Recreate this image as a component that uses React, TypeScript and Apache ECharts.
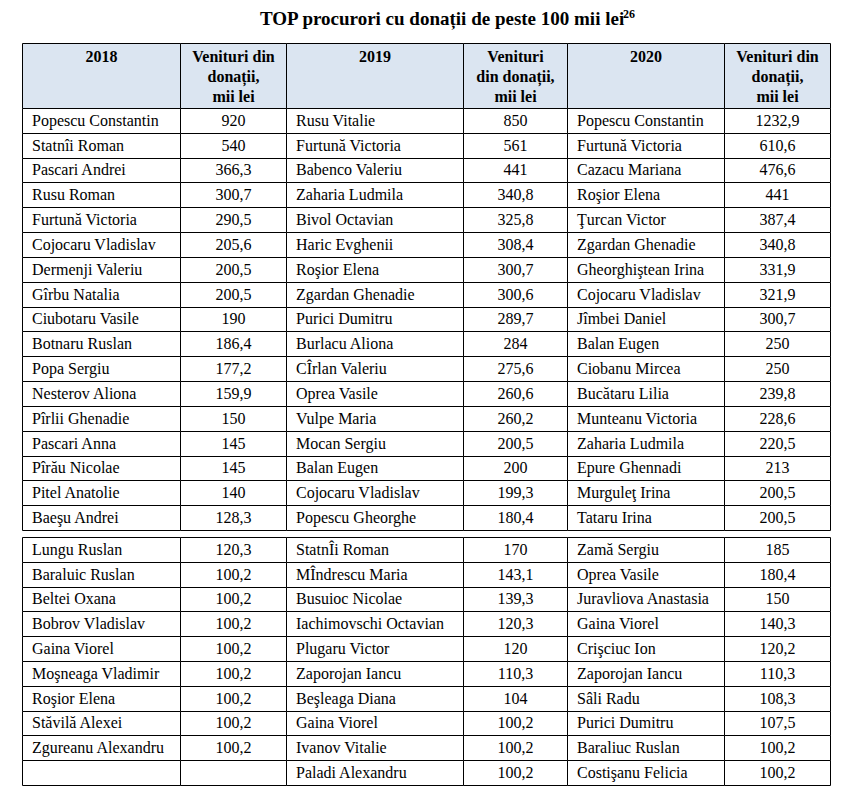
import React, { useEffect, useRef } from "react";
import * as echarts from "echarts";

// ---------- data ----------
const titleText = "TOP procurori cu donații de peste 100 mii lei";
const titleNote = "26";
const yearHeaders = ["2018", "2019", "2020"];
const valueHeaders = [
  "Venituri din\ndonații,\nmii lei",
  "Venituri\ndin donații,\nmii lei",
  "Venituri din\ndonații,\nmii lei",
];

const names2018 = [
  "Popescu Constantin", "Statnîi Roman", "Pascari Andrei", "Rusu Roman", "Furtună Victoria",
  "Cojocaru Vladislav", "Dermenji Valeriu", "Gîrbu Natalia", "Ciubotaru Vasile", "Botnaru Ruslan",
  "Popa Sergiu", "Nesterov Aliona", "Pîrlii Ghenadie", "Pascari Anna", "Pîrău Nicolae",
  "Pitel Anatolie", "Baeşu Andrei",
  "Lungu Ruslan", "Baraluic Ruslan", "Beltei Oxana", "Bobrov Vladislav", "Gaina Viorel",
  "Moşneaga Vladimir", "Roşior Elena", "Stăvilă Alexei", "Zgureanu Alexandru", "",
];
const values2018: (number | null)[] = [
  920, 540, 366.3, 300.7, 290.5, 205.6, 200.5, 200.5, 190, 186.4, 177.2, 159.9, 150, 145, 145, 140, 128.3,
  120.3, 100.2, 100.2, 100.2, 100.2, 100.2, 100.2, 100.2, 100.2, null,
];

const names2019 = [
  "Rusu Vitalie", "Furtună Victoria", "Babenco Valeriu", "Zaharia Ludmila", "Bivol Octavian",
  "Haric Evghenii", "Roşior Elena", "Zgardan Ghenadie", "Purici Dumitru", "Burlacu Aliona",
  "CÎrlan Valeriu", "Oprea Vasile", "Vulpe Maria", "Mocan Sergiu", "Balan Eugen",
  "Cojocaru Vladislav", "Popescu Gheorghe",
  "StatnÎi Roman", "MÎndrescu Maria", "Busuioc Nicolae", "Iachimovschi Octavian", "Plugaru Victor",
  "Zaporojan Iancu", "Beşleaga Diana", "Gaina Viorel", "Ivanov Vitalie", "Paladi Alexandru",
];
const values2019: (number | null)[] = [
  850, 561, 441, 340.8, 325.8, 308.4, 300.7, 300.6, 289.7, 284, 275.6, 260.6, 260.2, 200.5, 200, 199.3, 180.4,
  170, 143.1, 139.3, 120.3, 120, 110.3, 104, 100.2, 100.2, 100.2,
];

const names2020 = [
  "Popescu Constantin", "Furtună Victoria", "Cazacu Mariana", "Roşior Elena", "Ţurcan Victor",
  "Zgardan Ghenadie", "Gheorghiştean Irina", "Cojocaru Vladislav", "Jîmbei Daniel", "Balan Eugen",
  "Ciobanu Mircea", "Bucătaru Lilia", "Munteanu Victoria", "Zaharia Ludmila", "Epure Ghennadi",
  "Murguleţ Irina", "Tataru Irina",
  "Zamă Sergiu", "Oprea Vasile", "Juravliova Anastasia", "Gaina Viorel", "Crişciuc Ion",
  "Zaporojan Iancu", "Sâli Radu", "Purici Dumitru", "Baraliuc Ruslan", "Costişanu Felicia",
];
const values2020: (number | null)[] = [
  1232.9, 610.6, 476.6, 441, 387.4, 340.8, 331.9, 321.9, 300.7, 250, 250, 239.8, 228.6, 220.5, 213, 200.5, 200.5,
  185, 180.4, 150, 140.3, 120.2, 110.3, 108.3, 107.5, 100.2, 100.2,
];

const firstBlockRows = 17;

// ---------- layout (axis units) ----------
const COL_WIDTHS = [158, 106, 177, 104, 157, 106];
const COL_EDGES = COL_WIDTHS.reduce((a, w) => { a.push(a[a.length - 1] + w); return a; }, [0] as number[]);
const HEADER_H = 65;
const BLOCK1_H = 422;
const GAP_H = 7;
const BLOCK2_H = 248;
const TOTAL_W = COL_EDGES[COL_EDGES.length - 1];
const TOTAL_H = HEADER_H + BLOCK1_H + GAP_H + BLOCK2_H;
const FONT = '"Liberation Serif", "Times New Roman", serif';

const fmt = (v: number | null) => (v === null ? "" : String(v).replace(".", ","));

function rowSpan(r: number): [number, number] {
  if (r < 0) return [0, HEADER_H];
  const nSecond = names2018.length - firstBlockRows;
  if (r < firstBlockRows) {
    const h = BLOCK1_H / firstBlockRows;
    return [HEADER_H + r * h, HEADER_H + (r + 1) * h];
  }
  const h = BLOCK2_H / nSecond;
  const base = HEADER_H + BLOCK1_H + GAP_H;
  const k = r - firstBlockRows;
  return [base + k * h, base + (k + 1) * h];
}

type Cell = { col: number; row: number; text: string; head: boolean; isName: boolean };

function buildCells(): Cell[] {
  const cells: Cell[] = [];
  for (let c = 0; c < 6; c++) {
    const yi = Math.floor(c / 2);
    cells.push({ col: c, row: -1, text: c % 2 === 0 ? yearHeaders[yi] : valueHeaders[yi], head: true, isName: false });
  }
  const names = [names2018, names2019, names2020];
  const vals = [values2018, values2019, values2020];
  for (let r = 0; r < names2018.length; r++) {
    for (let y = 0; y < 3; y++) {
      cells.push({ col: 2 * y, row: r, text: names[y][r], head: false, isName: true });
      cells.push({ col: 2 * y + 1, row: r, text: fmt(vals[y][r]), head: false, isName: false });
    }
  }
  return cells;
}

export default function App() {
  const ref = useRef<HTMLDivElement>(null);
  useEffect(() => {
    if (!ref.current) return;
    const chart = echarts.init(ref.current, null, { renderer: "svg" });
    const cells = buildCells();
    const snap = (v: number) => Math.round(v) + 0.5;

    const renderItem = (params: any, api: any) => {
      const cell = cells[params.dataIndex];
      const c = api.value(0);
      const r = api.value(1);
      const [u0, u1] = rowSpan(r);
      const p0 = api.coord([COL_EDGES[c], u0]);
      const p1 = api.coord([COL_EDGES[c + 1], u1]);
      const x0 = snap(Math.min(p0[0], p1[0]));
      const x1 = snap(Math.max(p0[0], p1[0]));
      const y0 = snap(Math.min(p0[1], p1[1]));
      const y1 = snap(Math.max(p0[1], p1[1]));
      const text: any = cell.head
        ? {
            type: "text",
            style: {
              text: cell.text, x: (x0 + x1) / 2, y: y0 + 2.5,
              align: "center", verticalAlign: "top", lineHeight: 20,
              fontFamily: FONT, fontSize: 16, fontWeight: "bold", fill: "#000",
            },
          }
        : {
            type: "text",
            style: {
              text: cell.text,
              x: cell.isName ? x0 + 9.5 : (x0 + x1) / 2,
              y: (y0 + y1) / 2 - 1,
              align: cell.isName ? "left" : "center", verticalAlign: "middle",
              fontFamily: FONT, fontSize: 16, fill: "#000",
            },
          };
      return {
        type: "group",
        children: [
          {
            type: "rect",
            shape: { x: x0, y: y0, width: x1 - x0, height: y1 - y0 },
            style: { fill: cell.head ? "#dbe5f1" : "#ffffff", stroke: "#000", lineWidth: 1 },
          },
          text,
        ],
      };
    };

    chart.setOption({
      animation: false,
      backgroundColor: "#ffffff",
      grid: { left: 22, top: 43, width: TOTAL_W, height: TOTAL_H },
      xAxis: { type: "value", min: 0, max: TOTAL_W, show: false },
      yAxis: { type: "value", min: 0, max: TOTAL_H, inverse: true, show: false },
      graphic: [
        {
          type: "text", left: 260, top: 9,
          style: { text: titleText, fontFamily: FONT, fontSize: 19, fontWeight: "bold", fill: "#000" },
        },
        {
          type: "text", left: 623, top: 8,
          style: { text: titleNote, fontFamily: FONT, fontSize: 12, fontWeight: "bold", fill: "#000" },
        },
      ],
      series: [
        {
          type: "custom",
          clip: false,
          silent: true,
          renderItem,
          data: cells.map((cl) => [cl.col, cl.row]),
        },
      ],
    });
    return () => chart.dispose();
  }, []);
  return (
    <div
      ref={ref}
      style={{ position: "fixed", left: 0, top: 0, width: 845, height: 798, background: "#fff" }}
    />
  );
}
